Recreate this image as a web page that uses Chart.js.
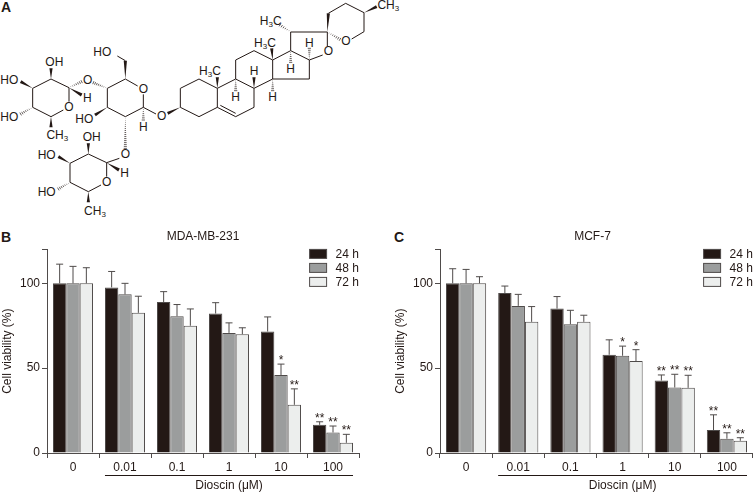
<!DOCTYPE html>
<html>
<head>
<meta charset="utf-8">
<title>Dioscin cell viability</title>
<script src="https://cdn.jsdelivr.net/npm/chart.js@4"></script>
<style>
	html, body { margin: 0; padding: 0; background: #fff; overflow: hidden; }
	body { width: 753px; height: 492px; position: relative; }
	canvas, svg { position: absolute; display: block; }
	.panel { position: absolute; font: bold 14px "Liberation Sans", Arial, sans-serif; color: #231815; line-height: 14px; }
</style>
</head>
<body>
<svg id="molecule" width="753" height="225" style="left:0;top:0"></svg>
<div class="panel" style="left:1px;top:0px">A</div>
<div class="panel" style="left:1px;top:230px">B</div>
<div class="panel" style="left:394px;top:230px">C</div>
<canvas id="chartB" width="376" height="267" style="left:0;top:225px"></canvas>
<canvas id="chartC" width="360" height="267" style="left:393px;top:225px"></canvas>
<script>
const doses = ["0", "0.01", "0.1", "1", "10", "100"];
const seriesNames = ["24 h", "48 h", "72 h"];
const yTickValues = [0, 50, 100, 120];

// MDA-MB-231
const mda24 = [100, 97.6, 89, 82.2, 71.6, 16.6];
const mda48 = [100, 93.5, 80.6, 70.8, 46, 12.1];
const mda72 = [100, 82.6, 75, 70, 28.4, 6];
const mda24Err = [111.3, 107, 95.1, 88.6, 80.2, 18.4];
const mda48Err = [110, 100, 87.5, 76.7, 52.4, 15.9];
const mda72Err = [109.2, 92.4, 84.9, 73.8, 37.8, 11];
const mda24Sig = ["", "", "", "", "", "**"];
const mda48Sig = ["", "", "", "", "*", "**"];
const mda72Sig = ["", "", "", "", "**", "**"];

// MCF-7
const mcf24 = [100, 94.3, 85.1, 57.9, 42.7, 13.5];
const mcf48 = [100, 86.7, 75.9, 57.3, 38.6, 8.4];
const mcf72 = [100, 77.3, 77.3, 54.2, 38.4, 7.2];
const mcf24Err = [108.6, 98.4, 92.2, 66.7, 46, 22.5];
const mcf48Err = [108.2, 93.5, 84.1, 63, 46.4, 11.9];
const mcf72Err = [103.9, 86.3, 81.2, 60.9, 45.8, 9];
const mcf24Sig = ["", "", "", "", "**", "**"];
const mcf48Sig = ["", "", "", "*", "**", "**"];
const mcf72Sig = ["", "", "", "*", "**", "**"];

const INK = "#231815";
const LINE = "#4f4b4a";
const FONT = '"Liberation Sans", Arial, sans-serif';
const fills = ["#231815", "#9b9d9d", "#eceeed"];

// upward error bars and significance stars, read through the chart's own scales
const errorBars = {
	id: "errorBars",
	afterDatasetsDraw(chart, args, opts) {
		const { ctx, scales } = chart;
		ctx.save();
		opts.tops.forEach((tops, s) => {
			const bars = chart.getDatasetMeta(s).data;
			tops.forEach((top, i) => {
				const x = bars[i].x;
				const yTop = scales.y.getPixelForValue(top);
				ctx.strokeStyle = LINE;
				ctx.lineWidth = 1;
				ctx.beginPath();
				ctx.moveTo(x, bars[i].y);
				ctx.lineTo(x, yTop);
				ctx.moveTo(x - 3.5, yTop);
				ctx.lineTo(x + 3.5, yTop);
				ctx.stroke();
				if (opts.stars[s][i]) {
					ctx.fillStyle = INK;
					ctx.font = "12px " + FONT;
					ctx.textAlign = "center";
					ctx.textBaseline = "alphabetic";
					ctx.fillText(opts.stars[s][i], x, yTop);
				}
			});
		});
		ctx.restore();
	},
};

// rule under the treated doses, with the drug label below it
const doseBracket = {
	id: "doseBracket",
	afterDraw(chart) {
		const { ctx, scales } = chart;
		const first = chart.getDatasetMeta(0).data[1];
		const last = chart.getDatasetMeta(2).data[5];
		const x0 = first.x - first.width / 2;
		const x1 = last.x + last.width / 2;
		const y = scales.x.bottom - 17;
		ctx.save();
		ctx.strokeStyle = INK;
		ctx.lineWidth = 1;
		ctx.beginPath();
		ctx.moveTo(x0, y + 0.5);
		ctx.lineTo(x1, y + 0.5);
		ctx.stroke();
		ctx.fillStyle = INK;
		ctx.font = "12px " + FONT;
		ctx.textAlign = "center";
		ctx.textBaseline = "middle";
		ctx.fillText("Dioscin (\u03bcM)", (x0 + x1) / 2, y + 11);
		ctx.restore();
	},
};

// the built-in legend can't set the box-to-text gap, so this one is drawn by hand
const sideLegend = {
	id: "sideLegend",
	afterDraw(chart) {
		const { ctx, chartArea } = chart;
		const x = chartArea.right - 49.4;
		ctx.save();
		ctx.font = "12px " + FONT;
		ctx.textBaseline = "middle";
		ctx.textAlign = "left";
		chart.data.datasets.forEach((ds, s) => {
			const y = chartArea.top + s * 14;
			ctx.fillStyle = ds.backgroundColor;
			ctx.strokeStyle = LINE;
			ctx.lineWidth = 1;
			ctx.fillRect(x, y, 17, 9);
			ctx.strokeRect(x, y, 17, 9);
			ctx.fillStyle = INK;
			ctx.fillText(ds.label, x + 26, y + 5);
		});
		ctx.restore();
	},
};

const titleShift = {
	id: "titleShift",
	afterLayout(chart, args, opts) {
		chart.titleBlock.left += opts.dx;
		chart.titleBlock.right += opts.dx;
	},
};

function makeChart(canvasId, title, values, tops, stars, rightPad, titleDx) {
	return new Chart(document.getElementById(canvasId), {
		type: "bar",
		data: {
			labels: doses,
			datasets: seriesNames.map((name, s) => ({
				label: name,
				data: values[s],
				backgroundColor: fills[s],
				borderColor: LINE,
				borderWidth: 1,
				categoryPercentage: 0.77,
				barPercentage: 1,
			})),
		},
		plugins: [errorBars, doseBracket, sideLegend, titleShift],
		options: {
			responsive: false,
			animation: false,
			layout: { padding: { left: 0, right: rightPad, top: 0, bottom: 0 } },
			plugins: {
				title: {
					display: true,
					text: title,
					color: INK,
					fullSize: false,
					font: { family: FONT, size: 12, weight: "normal" },
					padding: { top: 4, bottom: 6 },
				},
				legend: { display: false },
				tooltip: { enabled: false },
				errorBars: { tops, stars },
				titleShift: { dx: titleDx },
			},
			scales: {
				x: {
					offset: true,
					border: { color: LINE, width: 1 },
					grid: { display: true, drawOnChartArea: false, offset: true, tickLength: 5, color: LINE },
					ticks: { color: INK, font: { family: FONT, size: 12 }, maxRotation: 0, padding: 2 },
					afterFit(scale) { scale.height = 39; },
				},
				y: {
					min: 0,
					max: 120,
					afterBuildTicks(scale) { scale.ticks = yTickValues.map((value) => ({ value })); },
					border: { color: LINE, width: 1 },
					grid: { display: true, drawOnChartArea: false, tickLength: 5, color: LINE },
					ticks: {
						color: INK,
						font: { family: FONT, size: 12 },
						padding: 2,
						callback: (v) => (v === 120 ? "" : v),
					},
					title: {
						display: true,
						text: "Cell viability (%)",
						color: INK,
						font: { family: FONT, size: 12 },
						padding: 0,
					},
					afterFit(scale) { scale.width = 47; },
				},
			},
		},
	});
}

makeChart("chartB", "MDA-MB-231", [mda24, mda48, mda72], [mda24Err, mda48Err, mda72Err], [mda24Sig, mda48Sig, mda72Sig], 17, 0);
makeChart("chartC", "MCF-7", [mcf24, mcf48, mcf72], [mcf24Err, mcf48Err, mcf72Err], [mcf24Sig, mcf48Sig, mcf72Sig], 0, -4);

// Panel A: structural formula, not data. Coordinates are 3x the page pixels.
const plain = [
	// rhamnose 1
	[153,237,207,263],[207,263,207,305],[190,330,153,350],[153,350,98,322],[98,322,98,265],[98,265,153,237],
	// glucose
	[322,265,376,237],[376,237,413,258],[430,283,430,322],[430,322,376,350],[376,350,322,322],[322,322,322,265],
	[376,182,352,168],[430,322,468,342],
	// rhamnose 2
	[358,475,320,488],[320,488,265,462],[265,462,210,490],[210,490,210,547],[210,547,265,575],[265,575,303,555],[320,488,320,530],
	// steroid rings A to D
	[541,322,541,265],[541,265,597,237],[597,237,652,265],[652,265,652,322],[652,322,597,350],[597,350,541,322],
	[652,265,707,237],[652,322,707,350],[661,316,707,340],[707,350,762,322],[762,322,762,265],[762,265,707,237],
	[707,237,707,180],[707,180,762,152],[762,152,818,180],[818,180,818,237],[818,237,762,265],
	[818,237,928,237],[928,237,928,180],[928,180,872,152],[872,152,818,180],
	[928,180,968,165],[872,152,872,96],[872,96,982,96],[982,96,982,138],
	// spiro ring
	[985,40,1037,10],[1037,10,1092,38],[1092,38,1092,95],[1092,95,1055,117],
];
const wedges = [
	[153,237,153,205],[98,265,62,245],[153,350,153,382],[207,263,245,285],
	[376,237,376,182],[322,322,285,345],[541,322,503,340],
	[320,488,357,510],[265,462,265,430],[210,490,175,470],[265,575,265,607],
	[652,265,652,232],[762,265,762,232],[818,180,815,145],[982,96,985,40],[1092,38,1130,20],
];
const hashes = [
	[98,322,62,342],[207,263,245,245],[322,265,280,248],[376,350,376,445],[430,322,430,360],
	[210,547,175,567],[707,237,707,272],[818,237,818,272],[872,152,872,187],[928,180,928,145],
	[872,96,840,75],[982,96,1020,118],
];
const atoms = [
	["OH",163,185],["HO",28,240],["HO",28,350],["O",207,320],["O",263,240],["H",262,295],
	["HO",307,155],["O",430,268],["HO",253,357],["O",485,349],["H",430,380],["O",376,463],
	["OH",275,410],["HO",140,465],["HO",140,576],["O",320,547],["H",374,520],
	["H",707,292],["H",762,212],["H",818,292],["H",872,207],["H",928,128],["O",985,152],["O",1038,124],
];
const groups = [
	["CH", "3", 172, 405],["CH", "3", 285, 632],["CH", "3", 1165, 15],
];
const leftGroups = [
	[630, 212],[795, 130],[812, 62],
];

const svg = document.getElementById("molecule");
function el(name, attrs, text) {
	const node = document.createElementNS("http://www.w3.org/2000/svg", name);
	Object.keys(attrs).forEach((k) => node.setAttribute(k, attrs[k]));
	if (text) node.textContent = text;
	svg.appendChild(node);
	return node;
}
plain.forEach(([a, b, c, d]) => el("line", { x1: a / 3, y1: b / 3, x2: c / 3, y2: d / 3, stroke: INK, "stroke-width": 1 }));
wedges.forEach(([a, b, c, d]) => {
	const len = Math.hypot(c - a, d - b);
	const nx = ((d - b) / len) * 1.6;
	const ny = (-(c - a) / len) * 1.6;
	const pts = [[a / 3, b / 3], [c / 3 + nx, d / 3 + ny], [c / 3 - nx, d / 3 - ny]];
	el("polygon", { points: pts.map((p) => p.join(",")).join(" "), fill: INK });
});
hashes.forEach(([a, b, c, d]) => {
	const len = Math.hypot(c - a, d - b);
	const steps = Math.round(len / 6);
	for (let i = 1; i <= steps; i++) {
		const t = i / steps;
		const x = (a + (c - a) * t) / 3;
		const y = (b + (d - b) * t) / 3;
		const w = 1.6 * t;
		const nx = ((d - b) / len) * w;
		const ny = (-(c - a) / len) * w;
		el("line", { x1: x + nx, y1: y + ny, x2: x - nx, y2: y - ny, stroke: INK, "stroke-width": 0.7 });
	}
});
const textStyle = { "font-family": "Liberation Sans, Arial, sans-serif", "font-size": 12, fill: INK, "text-anchor": "middle", "dominant-baseline": "central" };
atoms.forEach(([t, x, y]) => {
	el("text", Object.assign({}, textStyle, { x: x / 3, y: y / 3 }), t);
});
function tspan(parent, text, size, dy) {
	const s = document.createElementNS("http://www.w3.org/2000/svg", "tspan");
	if (size) s.setAttribute("font-size", size);
	s.setAttribute("dy", dy);
	s.textContent = text;
	parent.appendChild(s);
}
groups.forEach(([t, sub, x, y]) => {
	const node = el("text", Object.assign({}, textStyle, { x: x / 3, y: y / 3 }), t);
	tspan(node, sub, 8, 3);
});
leftGroups.forEach(([x, y]) => {
	const node = el("text", Object.assign({}, textStyle, { x: x / 3, y: y / 3 }), "H");
	tspan(node, "3", 8, 3);
	tspan(node, "C", 0, -3);
});
</script>
</body>
</html>
